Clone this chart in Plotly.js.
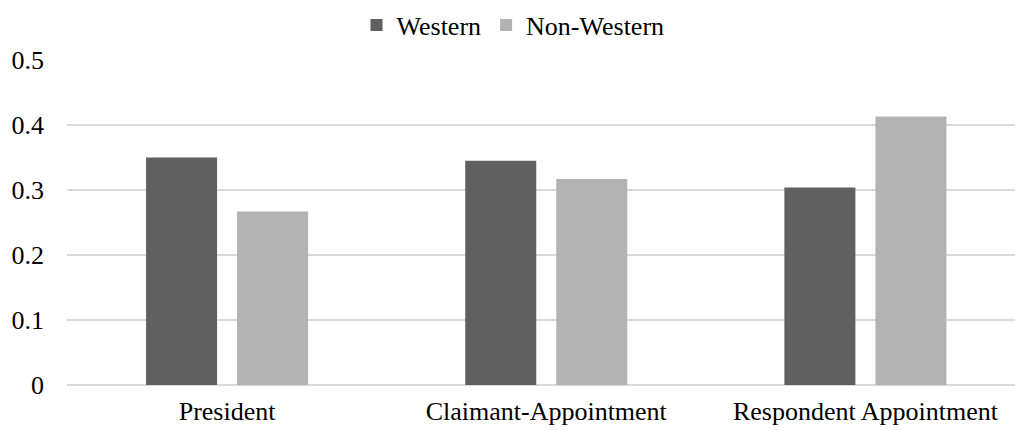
<!DOCTYPE html>
<html>
<head>
<meta charset="utf-8">
<script src="https://cdn.plot.ly/plotly-3.0.1.min.js"></script>
<style>html,body{margin:0;padding:0;background:#fff;}#chart{width:1015px;height:430px;}</style>
</head>
<body>
<div id="chart"></div>
<script>
const categories = ["President", "Claimant-Appointment", "Respondent Appointment"];
const seriesNames = ["Western", "Non-Western"];
const western = [0.350, 0.345, 0.304];
const nonWestern = [0.267, 0.317, 0.413];
const yTicks = [0, 0.1, 0.2, 0.3, 0.4, 0.5];
const yTickLabels = ["0", "0.1", "0.2", "0.3", "0.4", "0.5"];

const FONT = "Liberation Serif";

const traces = [
  {type: "bar", name: seriesNames[0], x: categories, y: western,
   marker: {color: "#606060"}, hoverinfo: "x+y+name"},
  {type: "bar", name: seriesNames[1], x: categories, y: nonWestern,
   marker: {color: "#b3b3b3"}, hoverinfo: "x+y+name"}
];

const layout = {
  width: 1015, height: 430,
  margin: {l: 67, r: 0, t: 60, b: 45, pad: 0},
  paper_bgcolor: "#ffffff", plot_bgcolor: "#ffffff",
  font: {family: FONT, size: 26, color: "#000000"},
  barmode: "group", bargap: 0.4295, bargroupgap: 0.22,
  showlegend: true,
  legend: {orientation: "h", x: 0.4705, xanchor: "center", y: 1.1077, yanchor: "middle",
           font: {family: FONT, size: 26, color: "#000000"}, itemwidth: 30,
           bgcolor: "rgba(0,0,0,0)", traceorder: "normal"},
  xaxis: {type: "category", range: [-0.5016, 2.4687], showgrid: false, showline: false,
          zeroline: false, ticks: "", ticklabelstandoff: 8,
          tickfont: {family: FONT, size: 26, color: "#000000"}, fixedrange: true},
  yaxis: {range: [0, 0.5], tickvals: yTicks, ticktext: yTickLabels, showgrid: true,
          gridcolor: "#d9d9d9", gridwidth: 2, zeroline: true, zerolinecolor: "#d9d9d9",
          zerolinewidth: 2, showline: false, ticks: "", ticklabelstandoff: 22,
          tickfont: {family: FONT, size: 26, color: "#000000"}, fixedrange: true}
};

Plotly.newPlot("chart", traces, layout, {displayModeBar: false, staticPlot: false});
</script>
</body>
</html>
